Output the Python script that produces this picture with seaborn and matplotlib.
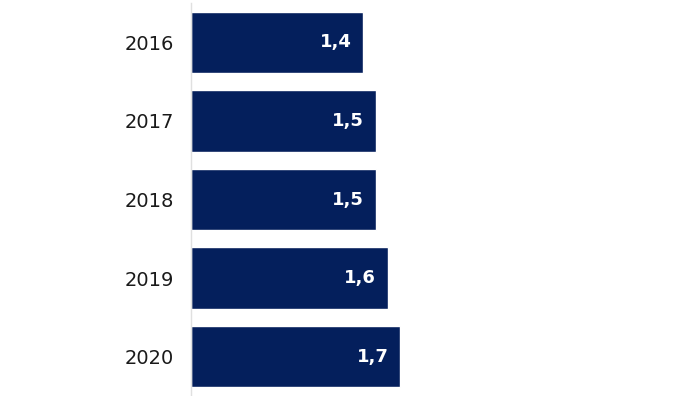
import pandas as pd
import matplotlib
matplotlib.use('Agg')
import matplotlib.pyplot as plt
import seaborn as sns

years = ['2016', '2017', '2018', '2019', '2020']
values = [1.4, 1.5, 1.5, 1.6, 1.7]

df = pd.DataFrame({'year': years, 'value': values})

sns.set_style('white')
plt.rcParams['font.family'] = ['DejaVu Sans']

fig = plt.figure(figsize=(7, 3.96), dpi=100)
ax = fig.add_axes([191 / 700, 0, 1 - 191 / 700, 393 / 396])

bars = sns.barplot(data=df, y='year', x='value', orient='h', color='#041f5c',
                   saturation=1, width=0.78, ax=ax)

# value labels inside the bar end
for bar, v in zip(bars.patches, values):
    label = f'{v:.1f}'.replace('.', ',')
    ax.annotate(label, xy=(bar.get_width(), bar.get_y() + bar.get_height() / 2),
                xytext=(-12, 0), textcoords='offset pixels',
                ha='right', va='center', color='white', fontsize=13, fontweight='bold')

ax.set_xlim(0, 508 / 122.9)
ax.set_ylim(4.5, -0.5)
ax.set_xlabel('')
ax.set_ylabel('')
ax.set_xticks([])
ax.tick_params(axis='y', length=0, pad=12, labelsize=14, labelcolor='#1a1a1a')
for side in ['top', 'right', 'bottom']:
    ax.spines[side].set_visible(False)
ax.spines['left'].set_color('#e0e0e0')
ax.spines['left'].set_linewidth(1)

fig.savefig('out.png', dpi=100)
